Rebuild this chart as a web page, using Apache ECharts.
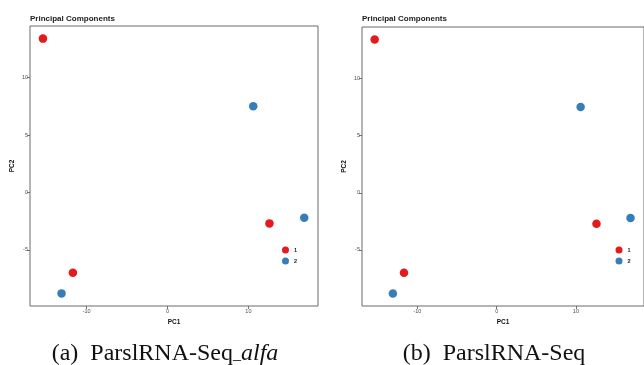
<!DOCTYPE html>
<html>
<head>
<meta charset="utf-8">
<script src="https://cdn.jsdelivr.net/npm/echarts@6/dist/echarts.min.js"></script>
<style>
  html, body { margin: 0; padding: 0; background: #fff; }
  #chart { width: 644px; height: 365px; }
</style>
</head>
<body>
<div id="chart"></div>
<script>
// PCA scores (same samples in both)
const groups = ['1', '2'];
const pc1Group1 = [-15.4, 12.6, -11.7];
const pc2Group1 = [13.4, -2.7, -7.0];
const pc1Group2 = [10.6, 16.9, -13.1];
const pc2Group2 = [7.5, -2.2, -8.8];

const xTicks = [-10, 0, 10];
const yTicks = [-5, 0, 5, 10];
const captions = ['(a)  {n|ParslRNA-Seq}{u|_}{i|alfa}', '(b)  {n|ParslRNA-Seq}'];

const RED = '#e41a1c';
const BLUE = '#377eb8';
const SANS = '"Liberation Sans", Arial, sans-serif';
const SERIF = '"Liberation Serif", "Times New Roman", serif';

const pairs = (xs, ys) => xs.map((x, i) => [x, ys[i]]);

// panel geometry: left panel full, right panel runs off the page edge
const panels = [
  { left: 30, top: 26, width: 288, height: 280, legendX: 282, caption: 165 },
  { left: 362, top: 27, width: 291, height: 279, legendX: 615.5, caption: 494 },
];

const xAxis = panels.map((p, i) => ({
  type: 'value', gridIndex: i, min: -17, max: 18.6,
  name: 'PC1', nameLocation: 'middle', nameGap: 13,
  nameTextStyle: { fontFamily: SANS, fontSize: 6.5, fontWeight: 'bold', color: '#111' },
  axisLine: { show: false, onZero: false },
  axisTick: { show: true, length: 3, customValues: xTicks, lineStyle: { color: '#555', width: 0.8 } },
  axisLabel: { customValues: xTicks, fontFamily: SANS, fontSize: 5.5, color: '#4d4d4d', margin: 2 },
  splitLine: { show: false },
}));

const yAxis = panels.map((p, i) => ({
  type: 'value', gridIndex: i, min: -9.9, max: 14.5,
  name: 'PC2', nameLocation: 'middle', nameGap: 14,
  nameTextStyle: { fontFamily: SANS, fontSize: 6.5, fontWeight: 'bold', color: '#111' },
  axisLine: { show: false, onZero: false },
  axisTick: { show: true, length: 3, customValues: yTicks, lineStyle: { color: '#555', width: 0.8 } },
  axisLabel: { customValues: yTicks, fontFamily: SANS, fontSize: 5.5, color: '#4d4d4d', margin: 2 },
  splitLine: { show: false },
}));

const series = [];
panels.forEach((p, i) => {
  series.push({
    name: groups[0], type: 'scatter', xAxisIndex: i, yAxisIndex: i,
    data: pairs(pc1Group1, pc2Group1), symbolSize: 8.5,
    itemStyle: { color: RED, opacity: 1 },
  });
  series.push({
    name: groups[1], type: 'scatter', xAxisIndex: i, yAxisIndex: i,
    data: pairs(pc1Group2, pc2Group2), symbolSize: 8.5,
    itemStyle: { color: BLUE, opacity: 1 },
  });
});

const option = {
  animation: false,
  backgroundColor: '#fff',
  title: panels.map(p => ({
    text: 'Principal Components', left: p.left, top: 15, padding: 0,
    textStyle: { fontFamily: SANS, fontSize: 8, fontWeight: 'bold', color: '#222' },
  })),
  grid: panels.map(p => ({
    left: p.left, top: p.top, width: p.width, height: p.height,
    show: true, borderColor: '#6b6b6b', borderWidth: 1, backgroundColor: '#fff',
  })),
  legend: panels.map(p => ({
    data: groups, orient: 'vertical', left: p.legendX, top: 246.5, padding: 0,
    itemWidth: 7, itemHeight: 7, itemGap: 4, icon: 'circle', selectedMode: false,
    textStyle: { fontFamily: SANS, fontSize: 5.5, fontWeight: 'bold', color: '#222', padding: [0, 0, 0, 0] },
  })),
  xAxis: xAxis,
  yAxis: yAxis,
  series: series,
  graphic: panels.map((p, i) => ({
    type: 'text', x: p.caption, y: 354,
    style: {
      text: captions[i], font: '24px ' + SERIF, fill: '#111',
      textAlign: 'center', textVerticalAlign: 'middle',
      rich: {
        n: { fontFamily: SERIF, fontSize: 24, fill: '#111' },
        u: { fontFamily: SERIF, fontSize: 16, fill: '#111', verticalAlign: 'bottom', padding: [0, 0, 3, 0] },
        i: { fontFamily: SERIF, fontSize: 24, fontStyle: 'italic', fill: '#111' },
      },
    },
  })),
};

echarts.init(document.getElementById('chart')).setOption(option);
</script>
</body>
</html>
